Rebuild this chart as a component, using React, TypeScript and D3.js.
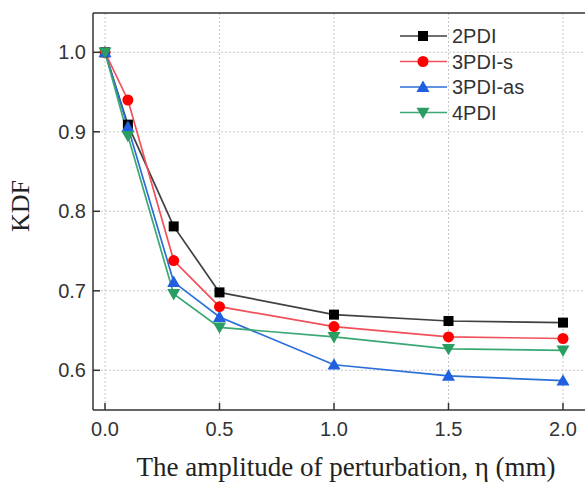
import React from "react";
import * as d3 from "d3";

const xValues = [0, 0.1, 0.3, 0.5, 1.0, 1.5, 2.0];
const seriesNames = ["2PDI", "3PDI-s", "3PDI-as", "4PDI"];
const pdi2 = [1.0, 0.909, 0.781, 0.698, 0.670, 0.662, 0.660];
const pdi3s = [1.0, 0.94, 0.738, 0.680, 0.655, 0.642, 0.640];
const pdi3as = [1.0, 0.906, 0.711, 0.667, 0.607, 0.593, 0.587];
const pdi4 = [1.0, 0.895, 0.696, 0.654, 0.642, 0.627, 0.625];
const xTicks = [0, 0.5, 1.0, 1.5, 2.0];
const yTicks = [0.6, 0.7, 0.8, 0.9, 1.0];

const lineColors = ["#404040", "#f0505a", "#2a6fd8", "#3aa872"];
const markerColors = ["#000000", "#ff0000", "#1f5fe0", "#2a9d62"];
const markerTypes = ["square", "circle", "triangle", "triangleDown"];

const W = 585, H = 482;
const L = 93, T = 13, R = 587, B = 410;

function Marker({ type, x, y, color }: { type: string; x: number; y: number; color: string }) {
  if (type === "square") return <rect x={x - 5} y={y - 5} width={10} height={10} fill={color} />;
  if (type === "circle") return <circle cx={x} cy={y} r={5.5} fill={color} />;
  const s = 6.5;
  if (type === "triangle")
    return <path d={`M${x},${y - s}L${x + s},${y + s * 0.75}L${x - s},${y + s * 0.75}Z`} fill={color} />;
  return <path d={`M${x},${y + s}L${x + s},${y - s * 0.75}L${x - s},${y - s * 0.75}Z`} fill={color} />;
}

export default function App() {
  const x = d3.scaleLinear().domain([0, 2]).range([105, 563]);
  const y = d3.scaleLinear().domain([0.6, 1.0]).range([370.3, 52.3]);
  const all = [pdi2, pdi3s, pdi3as, pdi4];
  const line = d3.line<number>().x((_, i) => x(xValues[i])).y((d) => y(d));
  const font = "Liberation Sans, Arial, sans-serif";
  const serif = "Liberation Serif, Times New Roman, serif";
  return (
    <svg width={W} height={H} style={{ position: "absolute", left: 0, top: 0, background: "#fff" }}>
      <rect width={W} height={H} fill="#fff" />
      {/* grid */}
      {xTicks.map((t) => (
        <line key={"gx" + t} x1={x(t)} x2={x(t)} y1={T} y2={B} stroke="#c8c8c8" strokeWidth={1} strokeDasharray="2,2" />
      ))}
      {yTicks.map((t) => (
        <line key={"gy" + t} x1={L} x2={R} y1={y(t)} y2={y(t)} stroke="#c8c8c8" strokeWidth={1} strokeDasharray="2,2" />
      ))}
      {/* frame */}
      <line x1={L} x2={R} y1={T} y2={T} stroke="#333" strokeWidth={1.5} />
      <line x1={L} x2={L} y1={T} y2={B} stroke="#333" strokeWidth={1.5} />
      <line x1={L} x2={R} y1={B} y2={B} stroke="#333" strokeWidth={1.5} />
      {/* ticks */}
      {xTicks.map((t) => (
        <g key={"tx" + t}>
          <line x1={x(t)} x2={x(t)} y1={B} y2={B - 7} stroke="#333" strokeWidth={1.5} />
          <text x={x(t)} y={B + 26} textAnchor="middle" fontFamily={font} fontSize={20} fill="#333">
            {t.toFixed(1)}
          </text>
        </g>
      ))}
      {yTicks.map((t) => (
        <g key={"ty" + t}>
          <line x1={L} x2={L + 7} y1={y(t)} y2={y(t)} stroke="#333" strokeWidth={1.5} />
          <text x={L - 7} y={y(t) + 7} textAnchor="end" fontFamily={font} fontSize={20} fill="#333">
            {t.toFixed(1)}
          </text>
        </g>
      ))}
      {/* series */}
      {all.map((s, k) => (
        <path key={"l" + k} d={line(s) || ""} fill="none" stroke={lineColors[k]} strokeWidth={1.7} />
      ))}
      {all.map((s, k) =>
        s.map((v, i) => (
          <Marker key={"m" + k + "-" + i} type={markerTypes[k]} x={x(xValues[i])} y={y(v)} color={markerColors[k]} />
        ))
      )}
      {/* legend */}
      {seriesNames.map((n, k) => {
        const ly = 36 + k * 25.5;
        return (
          <g key={"lg" + k}>
            <line x1={400} x2={447} y1={ly} y2={ly} stroke={lineColors[k]} strokeWidth={1.7} />
            <Marker type={markerTypes[k]} x={423} y={ly} color={markerColors[k]} />
            <text x={452} y={ly + 7} fontFamily={font} fontSize={20} fill="#333">
              {n}
            </text>
          </g>
        );
      })}
      {/* axis titles */}
      <text x={346} y={476} textAnchor="middle" fontFamily={serif} fontSize={27} fill="#222">
        The amplitude of perturbation, η (mm)
      </text>
      <text
        transform={`translate(29,${206}) rotate(-90)`}
        textAnchor="middle"
        fontFamily={serif}
        fontSize={26}
        fill="#222"
      >
        KDF
      </text>
    </svg>
  );
}
